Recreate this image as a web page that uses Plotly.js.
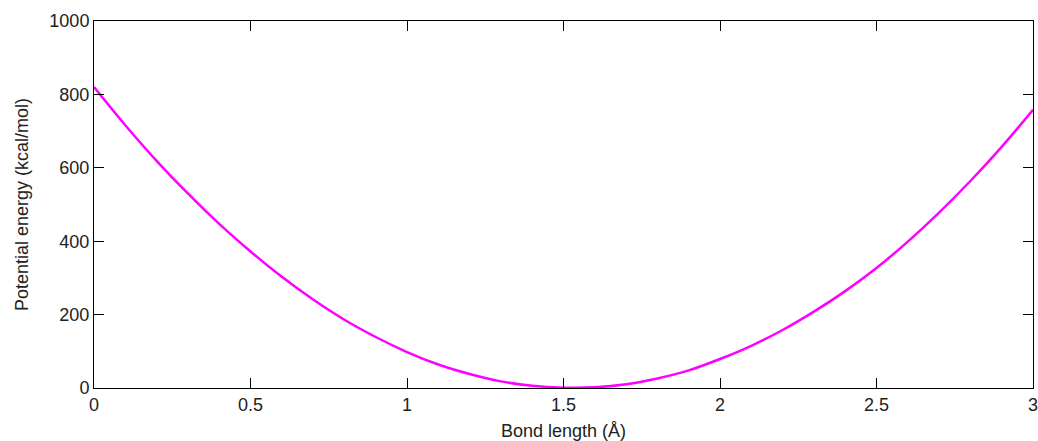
<!DOCTYPE html>
<html>
<head>
<meta charset="utf-8">
<script src="https://cdn.plot.ly/plotly-3.0.1.min.js"></script>
<style>html,body{margin:0;padding:0;background:#fff;}#chart{width:1038px;height:441px;}</style>
</head>
<body>
<div id="chart"></div>
<script>
var bondLength = [0, 0.1, 0.2, 0.3, 0.4, 0.5, 0.6, 0.7, 0.8, 0.9, 1.0, 1.1, 1.2, 1.3, 1.4, 1.5, 1.6, 1.7, 1.8, 1.9, 2.0, 2.1, 2.2, 2.3, 2.4, 2.5, 2.6, 2.7, 2.8, 2.9, 3.0];
var energy = [820, 716, 619, 530, 447, 372, 303, 241, 186, 139, 98, 64, 38, 18, 6, 1, 2, 10, 26, 48, 79, 115, 158, 208, 264, 327, 399, 478, 564, 657, 758];
var xTicks = [0, 0.5, 1, 1.5, 2, 2.5, 3];
var xTickText = ['0', '0.5', '1', '1.5', '2', '2.5', '3'];
var yTicks = [0, 200, 400, 600, 800, 1000];
var yTickText = ['0', '200', '400', '600', '800', '1000'];

var fontFam = 'Liberation Sans, Arial, sans-serif';
var trace = {
  x: bondLength, y: energy, type: 'scatter', mode: 'lines',
  line: {color: '#ff00ff', width: 2.5, shape: 'spline'},
  hoverinfo: 'skip'
};
var axisCommon = {
  showgrid: false, zeroline: false, showline: true, linecolor: '#000', linewidth: 1,
  mirror: 'ticks', ticks: 'inside', ticklen: 10, tickcolor: '#000', tickwidth: 1,
  ticklabeloverflow: 'allow', automargin: false,
  tickfont: {family: fontFam, size: 18, color: '#222'}
};
var layout = {
  width: 1038, height: 441,
  margin: {l: 94, r: 5, t: 21, b: 53},
  paper_bgcolor: '#fff', plot_bgcolor: '#fff',
  showlegend: false,
  xaxis: Object.assign({}, axisCommon, {
    range: [0, 3], tickvals: xTicks, ticktext: xTickText,
    title: {text: 'Bond length (Å)', font: {family: fontFam, size: 18, color: '#222'}, standoff: 11}
  }),
  yaxis: Object.assign({}, axisCommon, {
    range: [0, 1000], tickvals: yTicks, ticktext: yTickText,
    title: {text: 'Potential energy (kcal/mol)', font: {family: fontFam, size: 18, color: '#222'}, standoff: 16}
  })
};
Plotly.newPlot('chart', [trace], layout, {displayModeBar: false, staticPlot: true});
</script>
</body>
</html>
